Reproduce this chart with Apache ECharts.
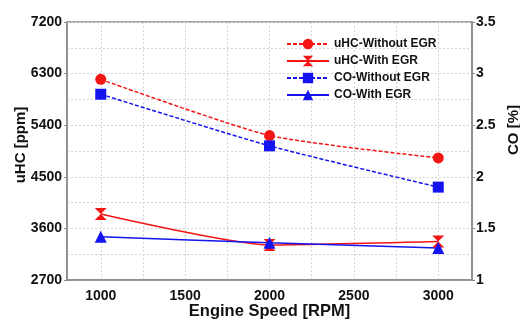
<!DOCTYPE html>
<html>
<head>
<meta charset="utf-8">
<script src="https://cdn.jsdelivr.net/npm/echarts@6/dist/echarts.min.js"></script>
<style>
  html, body { margin: 0; padding: 0; background: #fff; }
  #chart { width: 520px; height: 324px; }
</style>
</head>
<body>
<div id="chart"></div>
<script>
// Engine speed (RPM)
const speeds = [1000, 2000, 3000];
// Unburned hydrocarbons, ppm (left axis)
const uhcWithoutEgr = [6200, 5220, 4830];
const uhcWithEgr = [3850, 3310, 3370];
// Carbon monoxide, % (right axis)
const coWithoutEgr = [2.80, 2.30, 1.90];
const coWithEgr = [1.42, 1.36, 1.31];

// Axis tick labels
const speedLabels = [1000, 1500, 2000, 2500, 3000];
const speedGrid = [1000, 1250, 1500, 1750, 2000, 2250, 2500, 2750, 3000];

const seriesNames = ['uHC-Without EGR', 'uHC-With EGR', 'CO-Without EGR', 'CO-With EGR'];

const RED = '#f51414';
const BLUE = '#1414f0';
const FONT = 'Liberation Sans, Arial, sans-serif';
const hourglass = 'path://M0,0 L10,0 L5,5 L10,10 L0,10 L5,5 Z';

function pairs(values) {
  return speeds.map((s, i) => [s, values[i]]);
}

const gridLine = { show: true, lineStyle: { color: '#d4d4d4', type: [2, 2], width: 1 } };
const axisLine = { show: true, lineStyle: { color: '#8a8a8a', width: 1.5 } };
const tickLabel = { color: '#111', fontFamily: FONT, fontWeight: 'bold', fontSize: 14,
  formatter: v => String(v) };
const axisName = { color: '#111', fontFamily: FONT, fontWeight: 'bold', fontSize: 15 };

function makeSeries(name, values, color, symbol, size, dashed, yIndex) {
  return {
    name: name,
    type: 'line',
    yAxisIndex: yIndex,
    data: pairs(values),
    smooth: 0.2,
    symbol: symbol,
    symbolSize: size,
    itemStyle: { color: color },
    lineStyle: { color: color, width: 1.5, type: dashed ? [4, 2] : 'solid' },
    z: 3
  };
}

const chart = echarts.init(document.getElementById('chart'));
chart.setOption({
  animation: false,
  backgroundColor: '#fff',
  grid: {
    left: 67, right: 48, top: 22, bottom: 44,
    containLabel: false, outerBoundsMode: 'none',
    show: true, borderColor: '#8a8a8a', borderWidth: 1.5
  },
  legend: {
    data: seriesNames,
    orient: 'vertical',
    left: 281,
    top: 33,
    itemWidth: 42,
    itemHeight: 13,
    itemGap: 5,
    textStyle: { color: '#111', fontFamily: FONT, fontWeight: 'bold', fontSize: 12 }
  },
  xAxis: {
    type: 'value',
    min: 800,
    max: 3200,
    name: 'Engine Speed [RPM]',
    nameLocation: 'middle',
    nameGap: 23,
    nameMoveOverlap: false,
    nameTextStyle: Object.assign({}, axisName, { fontSize: 16.5 }),
    axisLine: axisLine,
    axisTick: { show: false, customValues: speedGrid },
    axisLabel: Object.assign({ margin: 9, customValues: speedLabels }, tickLabel),
    splitLine: gridLine
  },
  yAxis: [
    {
      type: 'value',
      min: 2700,
      max: 7200,
      interval: 900,
      name: 'uHC [ppm]',
      nameLocation: 'middle',
      nameRotate: 90,
      nameGap: 39,
      nameMoveOverlap: false,
      nameTextStyle: Object.assign({}, axisName, { padding: [0, 0, 0, 12] }),
      axisLine: axisLine,
      axisTick: { show: true, length: 3, lineStyle: { color: '#8a8a8a' } },
      axisLabel: Object.assign({ margin: 5 }, tickLabel),
      splitLine: gridLine,
      minorTick: { show: false, splitNumber: 2 },
      minorSplitLine: gridLine
    },
    {
      type: 'value',
      min: 1,
      max: 3.5,
      interval: 0.5,
      name: 'CO [%]',
      nameLocation: 'middle',
      nameRotate: 90,
      nameGap: 34,
      nameMoveOverlap: false,
      nameTextStyle: Object.assign({}, axisName, { padding: [0, 0, 0, 42] }),
      axisLine: axisLine,
      axisTick: { show: true, length: 3, lineStyle: { color: '#8a8a8a' } },
      axisLabel: Object.assign({ margin: 4 }, tickLabel),
      splitLine: { show: false }
    }
  ],
  series: [
    makeSeries(seriesNames[0], uhcWithoutEgr, RED, 'circle', 11, true, 0),
    makeSeries(seriesNames[1], uhcWithEgr, RED, hourglass, 12, false, 0),
    makeSeries(seriesNames[2], coWithoutEgr, BLUE, 'rect', 11, true, 1),
    makeSeries(seriesNames[3], coWithEgr, BLUE, 'triangle', 12, false, 1)
  ]
});
</script>
</body>
</html>
